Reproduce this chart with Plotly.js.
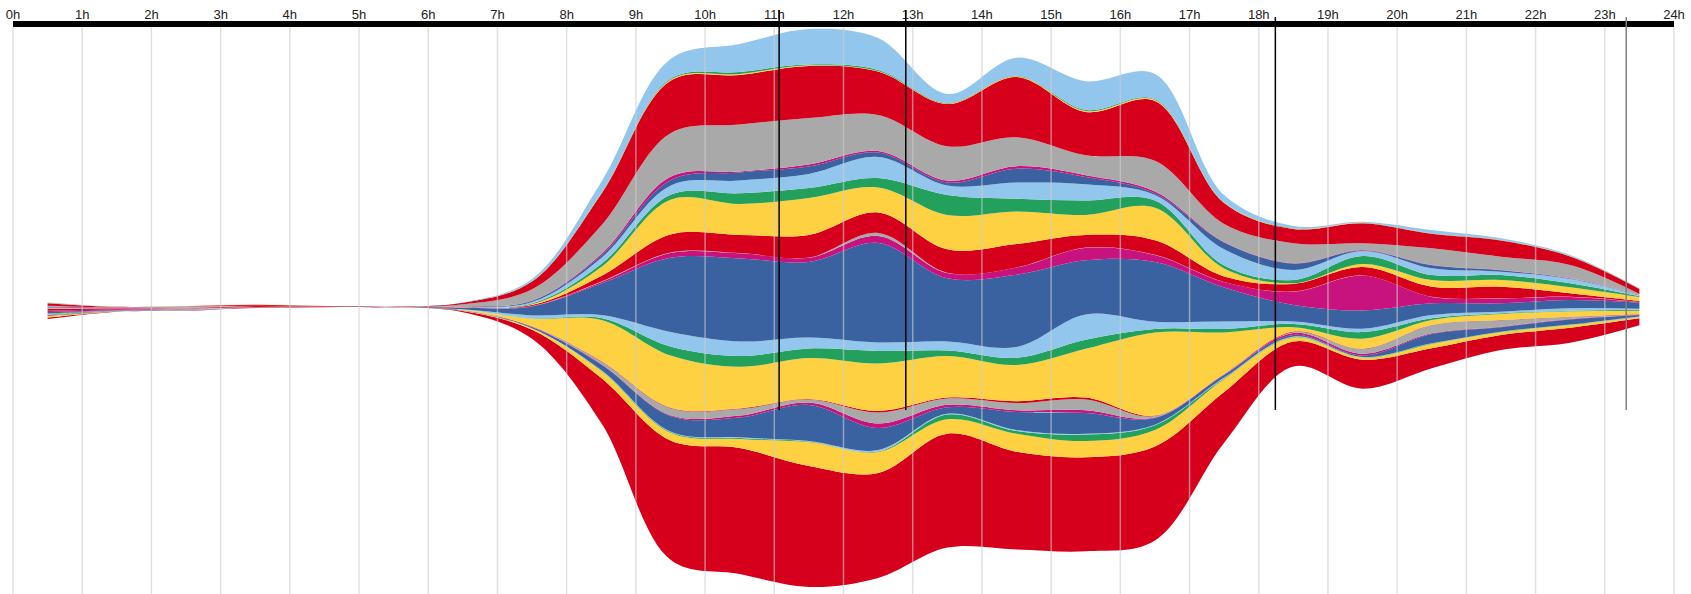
<!DOCTYPE html>
<html>
<head>
<meta charset="utf-8">
<script src="https://cdn.plot.ly/plotly-3.0.1.min.js"></script>
<style>
html,body{margin:0;padding:0;background:#ffffff;}
#chart{width:1691px;height:594px;}
</style>
</head>
<body>
<div id="chart"></div>
<script>
// ---------- data ----------
const hours = [0.5,1.5,2.5,3.5,4.5,5.5,6.5,7.5,8.5,9.5,10.5,11.5,12.5,13.5,14.5,15.5,16.5,17.5,18.5,19.5,20.5,21.5,22.5,23.5];
const tickLabels = ["0h","1h","2h","3h","4h","5h","6h","7h","8h","9h","10h","11h","12h","13h","14h","15h","16h","17h","18h","19h","20h","21h","22h","23h","24h"];
// upper edge of the stream (stack offset) per hour
const streamTop = [8,3.8,4.5,6,4.5,4,8,31.5,128.5,251.5,266.5,281.5,272.5,216.5,252.8,229.3,236.5,115.5,84.5,88.8,80.5,72.2,55.5,22.2];
const markerHours = [11.07, 12.9, 18.24, 23.31];

// layers, listed from the top of the stream to the bottom
const L01_lightblue = [.3,.05,.05,.05,.02,.02,.2,2,11,19.7,28,35.5,32,9,18.1,28.8,25.3,7.3,2.3,1,3.3,1.7,1,.2];
const L02_green     = [.2,.05,.05,.05,.02,.02,.05,.3,.5,1,2,.8,1,.5,.5,1,.7,.3,.3,.2,.2,.2,.2,.2];
const L03_yellow    = [.2,.05,.05,.05,.02,.02,.05,.3,.5,1,1,.7,.5,.5,.7,1,1,.3,.3,.3,.3,.3,.2,.2];
const L04_red       = [2.5,.5,.3,1,.4,.3,1.5,7.7,31.5,52.5,49.6,52,43.5,42.3,60.3,43.3,59.8,21,14.3,20.1,14.5,16.2,8.6,5];
const L05_gray      = [.8,.3,1.4,.2,.02,.02,2,11.3,28.5,43.5,47,46.5,36,34.3,28.9,19.9,30.7,18,20,6.7,16.7,13.3,13.3,1];
const L06_magenta   = [.5,.8,.1,.05,.02,.02,.1,.3,1.5,3.5,.9,2,1.5,1.9,2.5,1.8,1.8,.5,.3,.4,.3,.3,.2,.2];
const L07_darkblue  = [.5,.1,.1,.05,.02,.02,.3,1.2,2.5,5.5,8.1,7.5,4.5,2.9,13.8,7.3,1.7,6.8,6.4,.5,3,1.4,.5,.2];
const L08_lightblue = [.8,.1,.1,.05,.02,.02,.3,1.5,6,9,12.7,14,21,9.6,16.2,16.2,5.5,16.3,10,5,6.7,3.3,4.3,1];
const L09_green     = [.2,.05,.05,.05,.02,.02,.1,.7,3,5,10.7,10,9.5,20,12.7,14.5,7.3,2.9,3.3,8,5,5,4,.8];
const L10_yellow    = [.2,.05,.05,.05,.02,.02,.1,.8,9,34.7,30.9,37,25,34.3,32.5,19.9,32.5,8,.7,3.2,6.7,6.7,6,4];
const L11_red       = [2,.4,.3,.8,.2,.2,.4,.8,5.5,18.1,18.1,22.5,20.5,23.5,23.5,12.6,14.5,5.5,7.7,8.3,10,11.6,3.4,.8];
const L12_gray      = [.3,.2,.8,.1,.02,.02,.1,.2,.5,.5,.3,.3,3,.3,.2,.3,.2,.2,.2,.2,.2,.2,.2,.2];
const L13_magenta   = [1,.9,.1,.05,.02,.02,.1,.3,1.5,4.7,5.1,4.2,7,5.2,7.1,12.4,7,5.3,13.1,34.8,6.4,4.8,3.1,.6];
const L14_darkblue  = [1.5,.3,.2,.05,.02,.02,1.5,9,31.5,74.3,83.1,75.5,99.5,63.2,72.3,54.2,59.7,34.2,16.7,18.3,11.7,8.4,8.3,6];
const L15_lightblue = [.3,.05,.05,.05,.02,.02,.2,3,3,14.5,14.5,11,8.5,9.1,10.8,25.3,7.2,7.3,2.3,3.4,3.3,1.6,2.4,1];
const L16_green     = [.2,.05,.05,.05,.02,.02,.05,.3,2,9,10.8,9.5,12.5,5.4,7.2,9.1,3.6,3.5,3.3,6.6,1.7,.7,.5,1];
const L17_yellow    = [.5,.1,.05,.05,.02,.02,.5,7.6,41,52.2,41.6,41,47.5,41.6,36.2,48.8,83.1,41.5,4.4,10,5,6,5.5,3.5];
const L18_red       = [.3,.05,.05,.05,.02,.02,.05,.2,.5,.5,.6,.5,1.5,.9,1.8,1.8,.4,.3,.6,.4,.3,.3,.3,.2];
const L19_gray      = [.3,.1,.3,.05,.02,.02,.1,.3,2.5,7,6.6,3,11,6.3,7.2,10.8,1.5,.3,.7,4.6,8,6.4,2,.3];
const L20_magenta   = [.3,.2,.05,.05,.02,.02,.05,.2,.5,.7,1.9,2.5,4.5,2.5,1.8,2.8,.5,.4,2,1.7,.7,.5,.5,.2];
const L21_darkblue  = [.5,.1,.1,.05,.02,.02,.2,1.2,5.5,15.5,19.8,36,22,6.5,18,20.7,6.7,2.7,1.7,1.7,9.3,4.5,5,1.5];
const L22_lightblue = [.2,.05,.05,.05,.02,.02,.05,.2,.5,.6,.7,.5,1.5,.7,1,.8,.5,.6,.5,.3,.3,.3,.3,.6];
const L23_green     = [.2,.05,.05,.05,.02,.02,.05,.2,.5,.7,1,.5,.5,4.8,2.7,6.5,4.8,.7,.5,.3,.3,.3,.3,.3];
const L24_yellow    = [1.2,.1,.05,.05,.02,.02,.4,1.2,7,7.8,9,24,21,14.4,18.1,16.2,16.4,13,4,2,4.3,2.7,2.7,1];
const L25_red       = [1.5,.3,.2,.3,.1,.1,1.2,9,45,119.2,126,121,105,113.9,97.6,94,94,50.8,25,29,20,15,15,7];

// ---------- styles ----------
const palette = ['#93c6ec','#23a05c','#fdd142','#d6001c','#a9a9a9','#c8137f','#3a62a1'];
const layers = [L01_lightblue,L02_green,L03_yellow,L04_red,L05_gray,L06_magenta,L07_darkblue,
  L08_lightblue,L09_green,L10_yellow,L11_red,L12_gray,L13_magenta,L14_darkblue,
  L15_lightblue,L16_green,L17_yellow,L18_red,L19_gray,L20_magenta,L21_darkblue,
  L22_lightblue,L23_green,L24_yellow,L25_red];

// ---------- stacking ----------
const totals = hours.map((_, i) => layers.reduce((s, l) => s + l[i], 0));
const base = hours.map((_, i) => streamTop[i] - totals[i]);

const traces = [{
  x: hours, y: base.slice(), mode: 'lines',
  line: {width: 0, shape: 'spline', smoothing: 1},
  hoverinfo: 'skip', showlegend: false
}];
let cum = base.slice();
for (let k = layers.length - 1; k >= 0; k--) {
  cum = cum.map((v, i) => v + layers[k][i]);
  traces.push({
    x: hours, y: cum.slice(), mode: 'lines',
    line: {width: 0, shape: 'spline', smoothing: 1},
    fill: 'tonexty', fillcolor: palette[k % 7],
    hoverinfo: 'skip', showlegend: false
  });
}

// ---------- shapes ----------
const shapes = [];
tickLabels.forEach((_, i) => {
  shapes.push({type: 'line', xref: 'paper', yref: 'paper', x0: i / 24, x1: i / 24, y0: 0, y1: 1,
    line: {color: 'rgba(205,205,205,0.6)', width: 1.5}, layer: 'above'});
});
markerHours.forEach((h, j) => {
  shapes.push({type: 'line', xref: 'paper', yref: 'paper', x0: h / 24, x1: h / 24,
    y0: 0.3245, y1: j < 2 ? 1.03 : 1.0176,
    line: {color: j === 3 ? '#808080' : '#000000', width: 1.5}, layer: 'above'});
});

const layout = {
  width: 1691, height: 594,
  margin: {l: 13, r: 17, t: 27, b: 0, pad: 0},
  paper_bgcolor: '#ffffff', plot_bgcolor: '#ffffff',
  showlegend: false, hovermode: false,
  xaxis: {
    range: [0, 24], side: 'top',
    tickvals: tickLabels.map((_, i) => i), ticktext: tickLabels,
    showgrid: false, zeroline: false,
    showline: true, linecolor: '#000000', linewidth: 6,
    ticks: '', ticklabelstandoff: -3,
    tickfont: {family: 'Liberation Sans, Arial, sans-serif', size: 13, color: '#222222'},
    fixedrange: true
  },
  yaxis: {range: [-283.5, 283.5], visible: false, fixedrange: true},
  shapes: shapes
};

Plotly.newPlot('chart', traces, layout, {displayModeBar: false, staticPlot: true});
</script>
</body>
</html>
